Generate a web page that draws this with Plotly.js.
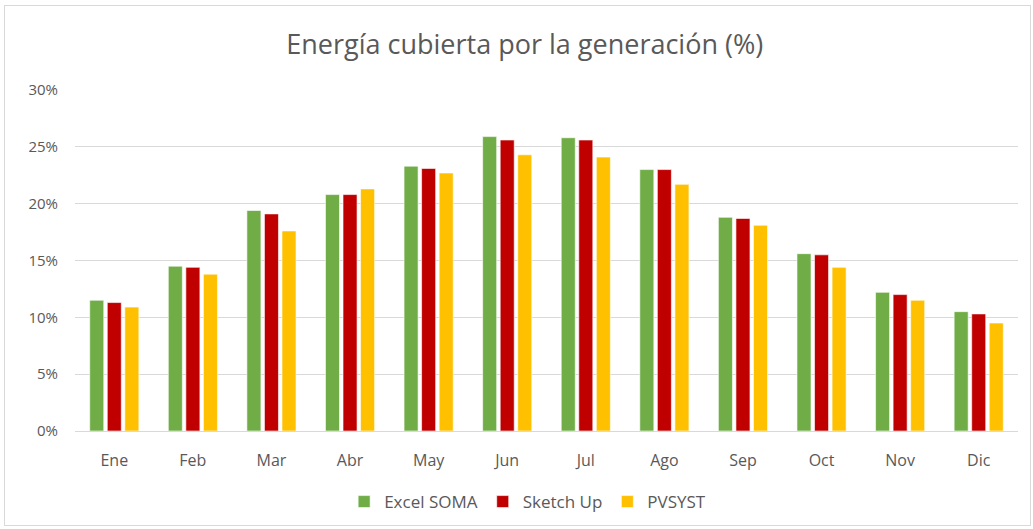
<!DOCTYPE html>
<html>
<head>
<meta charset="utf-8">
<script src="https://cdn.plot.ly/plotly-3.0.1.min.js"></script>
<style>
  body { margin: 0; padding: 0; background: #ffffff; }
  #chart { position: absolute; left: 0; top: 0; width: 1033px; height: 529px; }
  #frame { position: absolute; left: 4px; top: 5px; width: 1025px; height: 519px; border: 1px solid #d9d9d9; pointer-events: none; }
</style>
</head>
<body>
<div id="chart"></div>
<div id="frame"></div>
<script>
const months = ["Ene", "Feb", "Mar", "Abr", "May", "Jun", "Jul", "Ago", "Sep", "Oct", "Nov", "Dic"];
const excelSoma = [11.5, 14.5, 19.4, 20.8, 23.3, 25.9, 25.8, 23.0, 18.8, 15.6, 12.2, 10.5];
const sketchUp  = [11.3, 14.4, 19.1, 20.8, 23.1, 25.6, 25.6, 23.0, 18.7, 15.5, 12.0, 10.3];
const pvsyst    = [10.9, 13.8, 17.6, 21.3, 22.7, 24.3, 24.1, 21.7, 18.1, 14.4, 11.5, 9.5];
const yTicks = [0, 5, 10, 15, 20, 25, 30];

const font = "Open Sans, sans-serif";
const grey = "#595959";

function series(name, values, color) {
  return {
    type: "bar",
    name: name,
    x: months,
    y: values,
    marker: { color: color, line: { color: "rgba(255,255,255,0.6)", width: 1 } },
    hoverinfo: "x+y+name"
  };
}

const data = [
  series("Excel SOMA", excelSoma, "#70ad47"),
  series("Sketch Up", sketchUp, "#c00000"),
  series("PVSYST", pvsyst, "#ffc000")
];

const layout = {
  width: 1033,
  height: 529,
  margin: { l: 75, r: 15, t: 90, b: 98, pad: 0 },
  paper_bgcolor: "#ffffff",
  plot_bgcolor: "#ffffff",
  barmode: "group",
  bargap: 0.33,
  bargroupgap: 0.2,
  title: {
    text: "Energía cubierta por la generación (%)",
    font: { family: font, size: 27, color: grey },
    x: 0.508,
    xanchor: "center",
    y: 0.915,
    yanchor: "middle"
  },
  xaxis: {
    type: "category",
    tickfont: { family: font, size: 16, color: grey },
    showline: false,
    showgrid: false,
    ticks: "",
    zeroline: false,
    ticklabelstandoff: 18,
    automargin: false
  },
  yaxis: {
    range: [0, 30],
    tickvals: yTicks,
    ticktext: yTicks.map(v => v + "%"),
    tickfont: { family: font, size: 15, color: grey },
    showgrid: true,
    gridcolor: "#d9d9d9",
    gridwidth: 1,
    zeroline: true,
    zerolinecolor: "#d9d9d9",
    zerolinewidth: 1,
    showline: false,
    ticks: "",
    ticklabelstandoff: 16,
    automargin: false,
    fixedrange: true
  },
  showlegend: true,
  legend: {
    orientation: "h",
    xref: "paper",
    x: 0.48,
    xanchor: "center",
    yref: "container",
    y: 0.051,
    yanchor: "middle",
    font: { family: font, size: 17, color: grey },
    itemwidth: 30,
    traceorder: "normal"
  }
};

Plotly.newPlot("chart", data, layout, { displayModeBar: false, staticPlot: true });
</script>
</body>
</html>
